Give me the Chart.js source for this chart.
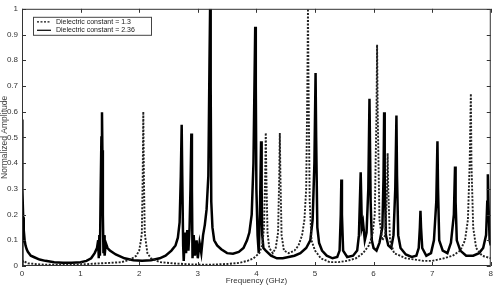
<!DOCTYPE html>
<html>
<head>
<meta charset="utf-8">
<script src="https://cdn.jsdelivr.net/npm/chart.js@4.4.0/dist/chart.umd.min.js"></script>
<style>
html,body{margin:0;padding:0;background:#fff;}
#wrap{width:496px;height:286px;position:relative;}
</style>
</head>
<body>
<div id="wrap"><canvas id="c" width="496" height="286"></canvas></div>
<script>
// ---- data ----
const xTicks = [0,1,2,3,4,5,6,7,8];
const yTicks = [0,0.1,0.2,0.3,0.4,0.5,0.6,0.7,0.8,0.9,1];
const labelA = "Dielectric constant = 1.3";
const labelB = "Dielectric constant = 2.36";

const freqB = [0.000,0.002,0.010,0.020,0.030,0.045,0.06,0.08,0.10,0.15,0.20,0.30,0.40,0.55,0.70,0.85,1.00,1.10,1.18,1.24,1.28,1.30,1.31,1.32,1.33,1.34,1.355,1.365,1.372,1.38,1.39,1.40,1.41,1.43,1.46,1.50,1.60,1.75,1.90,2.05,2.20,2.35,2.45,2.55,2.62,2.66,2.69,2.71,2.725,2.735,2.75,2.76,2.78,2.80,2.82,2.84,2.86,2.875,2.89,2.90,2.91,2.93,2.95,2.98,3.00,3.03,3.06,3.09,3.12,3.15,3.18,3.20,3.21,3.22,3.23,3.25,3.28,3.33,3.40,3.50,3.60,3.70,3.78,3.84,3.88,3.92,3.95,3.98,3.99,4.00,4.02,4.04,4.06,4.08,4.09,4.10,4.12,4.16,4.25,4.35,4.45,4.55,4.65,4.75,4.85,4.92,4.96,4.99,5.01,5.02,5.04,5.07,5.12,5.20,5.30,5.38,5.42,5.44,5.45,5.46,5.48,5.55,5.65,5.72,5.75,5.78,5.80,5.82,5.85,5.88,5.91,5.93,5.95,5.97,6.00,6.05,6.10,6.15,6.17,6.18,6.19,6.21,6.25,6.30,6.34,6.37,6.39,6.40,6.42,6.46,6.55,6.65,6.73,6.77,6.79,6.80,6.81,6.83,6.90,6.98,7.03,7.07,7.09,7.10,7.12,7.18,7.26,7.32,7.37,7.39,7.40,7.42,7.48,7.58,7.70,7.80,7.87,7.92,7.94,7.95,7.96,7.98,8.00];
const ampB  = [0.00,0.57,0.30,0.19,0.14,0.10,0.08,0.065,0.055,0.04,0.035,0.025,0.02,0.015,0.013,0.013,0.015,0.02,0.03,0.05,0.07,0.10,0.03,0.12,0.04,0.25,0.50,0.598,0.45,0.20,0.05,0.12,0.04,0.09,0.07,0.06,0.045,0.03,0.022,0.02,0.022,0.03,0.04,0.06,0.08,0.11,0.17,0.35,0.549,0.35,0.08,0.02,0.13,0.05,0.14,0.06,0.15,0.30,0.515,0.30,0.03,0.12,0.04,0.10,0.03,0.09,0.05,0.12,0.16,0.22,0.35,0.80,1.00,0.70,0.25,0.15,0.10,0.08,0.065,0.05,0.048,0.055,0.07,0.10,0.13,0.20,0.40,0.93,0.70,0.30,0.12,0.05,0.20,0.485,0.30,0.12,0.07,0.06,0.04,0.03,0.03,0.035,0.04,0.05,0.07,0.10,0.18,0.40,0.75,0.50,0.15,0.09,0.06,0.04,0.03,0.035,0.06,0.20,0.336,0.20,0.06,0.035,0.04,0.06,0.12,0.364,0.15,0.17,0.10,0.13,0.30,0.65,0.25,0.10,0.07,0.06,0.09,0.15,0.35,0.598,0.35,0.12,0.08,0.07,0.12,0.30,0.585,0.35,0.12,0.07,0.045,0.035,0.04,0.07,0.15,0.215,0.15,0.07,0.04,0.05,0.10,0.25,0.485,0.30,0.10,0.06,0.05,0.09,0.20,0.387,0.25,0.10,0.06,0.04,0.04,0.05,0.07,0.12,0.25,0.357,0.25,0.10,0.08];

const freqA = [0.00,0.02,0.10,0.40,0.80,1.10,1.30,1.50,1.70,1.85,1.95,2.00,2.03,2.045,2.06,2.07,2.08,2.095,2.11,2.14,2.20,2.35,2.60,2.90,3.20,3.50,3.70,3.85,3.95,4.05,4.10,4.13,4.15,4.16,4.17,4.19,4.22,4.28,4.33,4.37,4.39,4.40,4.41,4.43,4.47,4.55,4.65,4.72,4.78,4.82,4.85,4.87,4.88,4.89,4.91,4.94,5.00,5.10,5.25,5.40,5.55,5.70,5.82,5.92,5.98,6.02,6.05,6.06,6.07,6.10,6.15,6.20,6.23,6.24,6.25,6.28,6.35,6.45,6.55,6.70,6.85,7.00,7.20,7.35,7.48,7.56,7.61,7.64,7.66,7.67,7.70,7.75,7.85,8.00];
const ampA  = [0.00,0.02,0.01,0.005,0.005,0.007,0.01,0.012,0.015,0.025,0.04,0.06,0.10,0.13,0.35,0.60,0.35,0.13,0.10,0.05,0.03,0.015,0.01,0.006,0.005,0.008,0.012,0.02,0.03,0.05,0.08,0.15,0.35,0.518,0.35,0.13,0.07,0.05,0.07,0.13,0.35,0.517,0.35,0.12,0.06,0.05,0.06,0.08,0.12,0.18,0.30,0.70,1.00,0.70,0.25,0.10,0.06,0.03,0.015,0.015,0.02,0.03,0.05,0.08,0.12,0.20,0.60,0.86,0.60,0.18,0.10,0.12,0.30,0.438,0.30,0.10,0.05,0.04,0.03,0.025,0.02,0.02,0.03,0.04,0.06,0.10,0.18,0.40,0.67,0.40,0.15,0.07,0.04,0.03];

const toPts = (fs, as) => fs.map((f, i) => ({x: f, y: as[i]}));
const FONT = "'Liberation Sans', Arial, sans-serif";

const frame = {
  id: 'frame',
  afterDatasetsDraw(chart) {
    const {ctx, chartArea: a, scales: {x, y}} = chart;
    ctx.save();
    ctx.strokeStyle = '#333';
    ctx.lineWidth = 1;
    ctx.strokeRect(a.left + 0.5, a.top + 0.5, a.right - a.left - 1, a.bottom - a.top - 1);
    const L = 4;
    ctx.beginPath();
    xTicks.forEach(v => {
      const px = Math.round(x.getPixelForValue(v)) + 0.5;
      ctx.moveTo(px, a.bottom); ctx.lineTo(px, a.bottom - L);
      ctx.moveTo(px, a.top); ctx.lineTo(px, a.top + L);
    });
    yTicks.forEach(v => {
      const py = Math.round(y.getPixelForValue(v)) + 0.5;
      ctx.moveTo(a.left, py); ctx.lineTo(a.left + L, py);
      ctx.moveTo(a.right, py); ctx.lineTo(a.right - L, py);
    });
    ctx.stroke();
    // legend box inside the plot
    const bx = a.left + 11, by = a.top + 8, bw = 118, bh = 18;
    ctx.fillStyle = '#fff';
    ctx.fillRect(bx, by, bw, bh);
    ctx.strokeStyle = '#444';
    ctx.strokeRect(bx + 0.5, by + 0.5, bw, bh);
    ctx.font = '7px ' + FONT;
    ctx.fillStyle = '#222';
    ctx.textBaseline = 'middle';
    const ds = chart.data.datasets;
    ds.forEach((d, i) => {
      const ly = by + 5 + i * 8.5;
      ctx.beginPath();
      ctx.strokeStyle = '#111';
      ctx.lineWidth = 1.3;
      ctx.setLineDash(d.borderDash || []);
      ctx.moveTo(bx + 4, ly); ctx.lineTo(bx + 18, ly);
      ctx.stroke();
      ctx.setLineDash([]);
      ctx.fillText(d.label, bx + 23, ly);
    });
    ctx.restore();
  }
};

new Chart(document.getElementById('c'), {
  type: 'line',
  data: {
    datasets: [
      {label: labelA, data: toPts(freqA, ampA), borderColor: '#222', borderWidth: 1.9, borderDash: [2, 1.5], pointRadius: 0, tension: 0, fill: false},
      {label: labelB, data: toPts(freqB, ampB), borderColor: '#000', borderWidth: 2.5, pointRadius: 0, tension: 0, fill: false}
    ]
  },
  options: {
    responsive: false,
    animation: false,
    layout: {padding: {top: 5, right: 5, left: 0, bottom: 0}},
    plugins: {legend: {display: false}, tooltip: {enabled: false}},
    scales: {
      x: {
        type: 'linear', min: 0, max: 8,
        afterBuildTicks: s => { s.ticks = xTicks.map(v => ({value: v})); },
        afterFit: s => { s.height = 20; },
        grid: {display: false, drawTicks: false},
        border: {display: false},
        ticks: {font: {size: 8, family: FONT}, color: '#333', padding: 3, maxRotation: 0},
        title: {display: true, text: 'Frequency (GHz)', font: {size: 8, family: FONT}, color: '#333', padding: 0}
      },
      y: {
        type: 'linear', min: 0, max: 1,
        afterBuildTicks: s => { s.ticks = yTicks.map(v => ({value: v})); },
        afterFit: s => { s.width = 22; },
        grid: {display: false, drawTicks: false},
        border: {display: false},
        ticks: {font: {size: 8, family: FONT}, color: '#333', padding: 4, callback: v => String(v)},
        title: {display: true, text: 'Normalized Amplitude', font: {size: 8.5, family: FONT}, color: '#444', padding: 0}
      }
    }
  },
  plugins: [frame]
});
</script>
</body>
</html>
